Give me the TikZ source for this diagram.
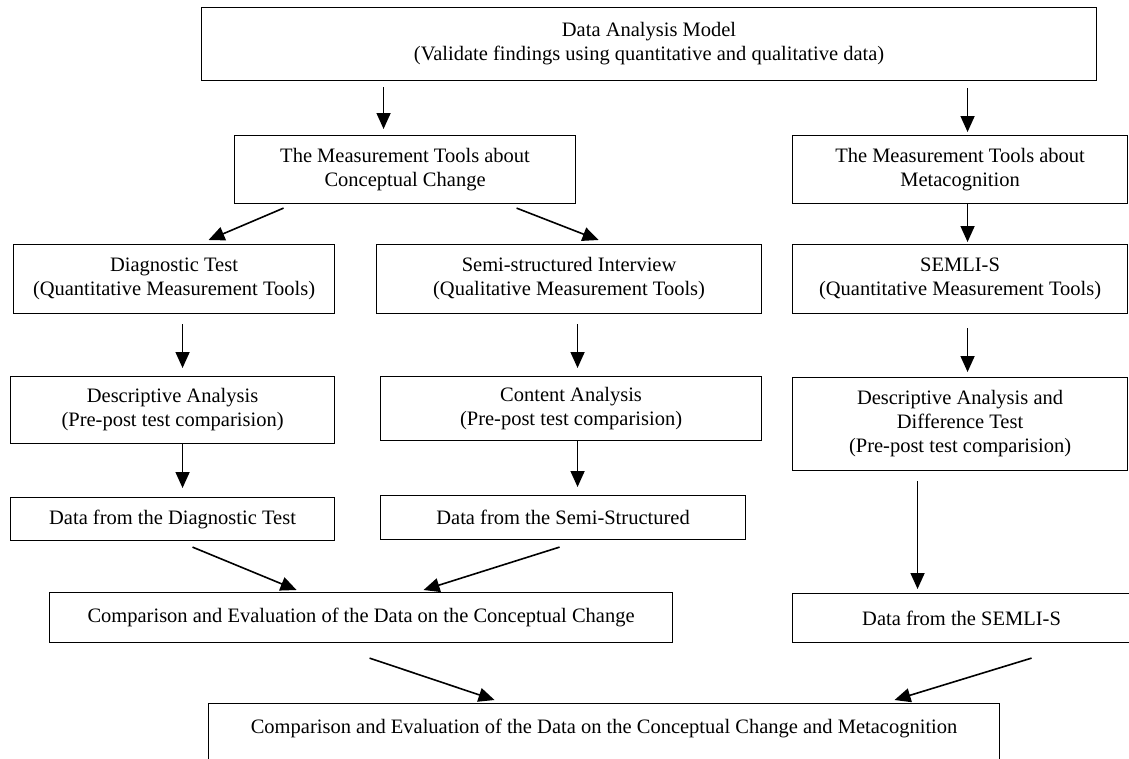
\documentclass[tikz,border=0pt]{standalone}
\usepackage{fontspec}
\setmainfont{Liberation Serif}
\usetikzlibrary{arrows.meta}

\begin{document}
\begin{tikzpicture}[x=1pt,y=-1pt,
    box/.style={draw,line width=1.1pt,inner sep=0pt,align=center,
                anchor=north west,font=\fontsize{20.5}{24}\selectfont},
    arr/.style={line width=1.6pt,-{Triangle[length=16pt,width=14pt]}}]
    \useasboundingbox (0,0) rectangle (1129,758);
    \clip (0,0) rectangle (1129,758);
    \node[box,minimum width=895pt,minimum height=73pt] (dam) at (201,7)
      {Data Analysis Model\\(Validate findings using quantitative and qualitative data)};
    \node[box,minimum width=341pt,minimum height=68pt] (cct) at (234,135)
      {The Measurement Tools about\\Conceptual Change};
    \node[box,minimum width=335pt,minimum height=68pt] (mct) at (792,135)
      {The Measurement Tools about\\Metacognition};
    \node[box,minimum width=321pt,minimum height=69pt] (diag) at (13,244)
      {Diagnostic Test\\(Quantitative Measurement Tools)};
    \node[box,minimum width=385pt,minimum height=69pt] (semi) at (376,244)
      {Semi-structured Interview\\(Qualitative Measurement Tools)};
    \node[box,minimum width=335pt,minimum height=69pt] (semli) at (792,244)
      {SEMLI-S\\(Quantitative Measurement Tools)};
    \node[box,minimum width=324pt,minimum height=67pt] (desc) at (10,376)
      {Descriptive Analysis\\(Pre-post test comparision)};
    \node[box,minimum width=381pt,minimum height=64pt] (content) at (380,376)
      {Content Analysis\\(Pre-post test comparision)};
    \node[box,minimum width=335pt,minimum height=93pt] (descdiff) at (792,377)
      {Descriptive Analysis and\\Difference Test\\(Pre-post test comparision)};
    \node[box,minimum width=324pt,minimum height=43pt] (datadiag) at (10,497)
      {Data from the Diagnostic Test};
    \node[box,minimum width=365pt,minimum height=44pt] (datasemi) at (380,495)
      {Data from the Semi-Structured};
    \node[box,minimum width=623pt,minimum height=50pt] (cc) at (49,592)
      {Comparison and Evaluation of the Data on the Conceptual Change};
    \node[box,minimum width=338pt,minimum height=49pt] (datasemli) at (792,593)
      {Data from the SEMLI-S};
    \node[box,minimum width=791pt,text height=30pt,text depth=50pt] (final) at (208,703)
      {Comparison and Evaluation of the Data on the Conceptual Change and Metacognition};
    % top level
    \draw[arr] ([xshift=-265.5pt,yshift=-6pt]dam.south) -- ([xshift=-21.5pt,yshift=6pt]cct.north);
    \draw[arr] ([xshift=318.5pt,yshift=-7pt]dam.south) -- ([xshift=7.5pt,yshift=3pt]mct.north);
    % conceptual change branch
    \draw[arr] ([xshift=-121.5pt,yshift=-4pt]cct.south) -- ([xshift=34.5pt,yshift=4pt]diag.north);
    \draw[arr] ([xshift=111.5pt,yshift=-4pt]cct.south) -- ([xshift=29.5pt,yshift=4pt]semi.north);
    \draw[arr] ([xshift=8.5pt,yshift=-10pt]diag.south) -- ([xshift=10pt,yshift=8pt]desc.north);
    \draw[arr] ([xshift=8.5pt,yshift=-10pt]semi.south) -- ([xshift=6.5pt,yshift=8pt]content.north);
    \draw[arr] ([xshift=10pt]desc.south) -- ([xshift=10pt,yshift=9pt]datadiag.north);
    \draw[arr] ([xshift=6.5pt]content.south) -- ([xshift=14.5pt,yshift=8pt]datasemi.north);
    \draw[arr] ([xshift=20pt,yshift=-6pt]datadiag.south) -- ([xshift=-64.5pt,yshift=2pt]cc.north);
    \draw[arr] ([xshift=-3.5pt,yshift=-7pt]datasemi.south) -- ([xshift=62.5pt,yshift=2pt]cc.north);
    % metacognition branch
    \draw[arr] ([xshift=7.5pt]mct.south) -- ([xshift=7.5pt,yshift=2pt]semli.north);
    \draw[arr] ([xshift=7.5pt,yshift=-14pt]semli.south) -- ([xshift=7.5pt,yshift=5pt]descdiff.north);
    \draw[arr] ([xshift=-42.5pt,yshift=-10pt]descdiff.south) -- ([xshift=-44pt,yshift=4pt]datasemli.north);
    % final comparison
    \draw[arr] ([xshift=8.5pt,yshift=-15pt]cc.south) -- ([xshift=-109.5pt,yshift=3pt]final.north);
    \draw[arr] ([xshift=70pt,yshift=-15pt]datasemli.south) -- ([xshift=290.5pt,yshift=3pt]final.north);
\end{tikzpicture}
\end{document}
